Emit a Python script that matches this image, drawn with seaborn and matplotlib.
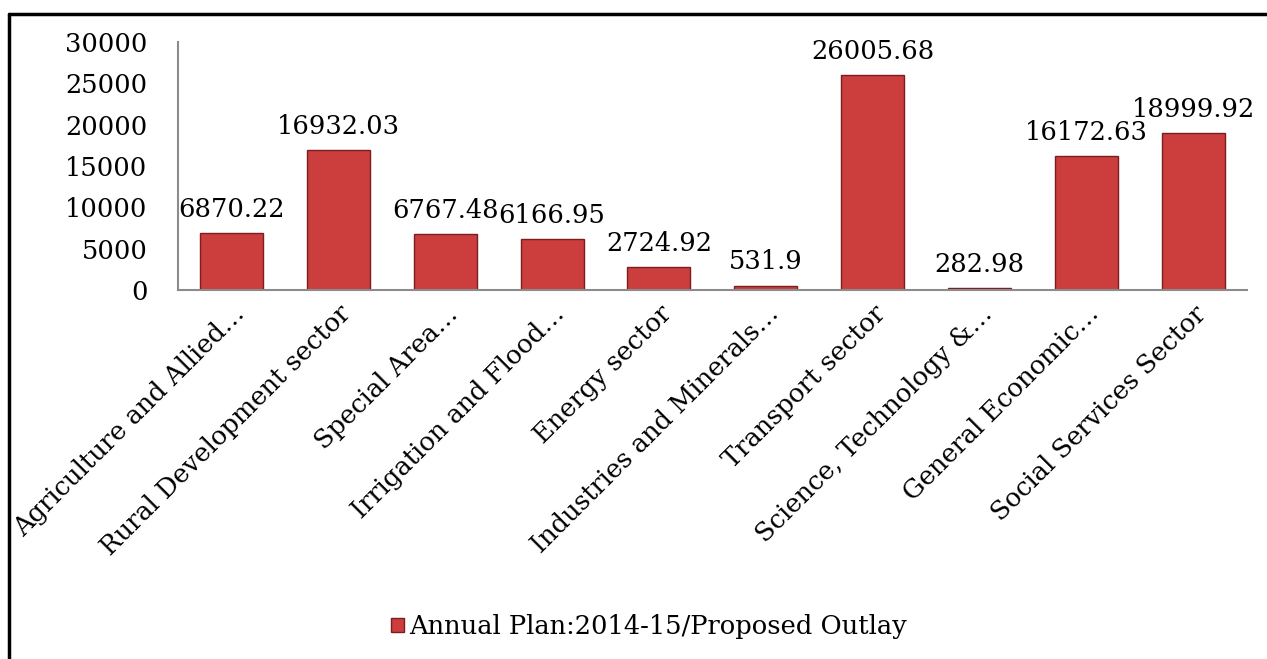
import matplotlib
matplotlib.use("Agg")
import matplotlib.pyplot as plt
import seaborn as sns
import pandas as pd
from matplotlib.lines import Line2D
from matplotlib.patches import Patch

categories = [
    "Agriculture and Allied…",
    "Rural Development sector",
    "Special Area…",
    "Irrigation and Flood…",
    "Energy sector",
    "Industries and Minerals…",
    "Transport sector",
    "Science, Technology &…",
    "General Economic…",
    "Social Services Sector",
]
values = [6870.22, 16932.03, 6767.48, 6166.95, 2724.92, 531.9, 26005.68, 282.98, 16172.63, 18999.92]
value_labels = ["6870.22", "16932.03", "6767.48", "6166.95", "2724.92", "531.9",
                "26005.68", "282.98", "16172.63", "18999.92"]
series_name = "Annual Plan:2014-15/Proposed Outlay"
yticks = [0, 5000, 10000, 15000, 20000, 25000, 30000]

sns.set_theme(style="white")
plt.rcParams["font.family"] = ["DejaVu Serif", "DejaVu Sans"]
plt.rcParams["text.color"] = "black"
plt.rcParams["xtick.color"] = "black"
plt.rcParams["ytick.color"] = "black"

df = pd.DataFrame({"category": categories, "value": values})

fig = plt.figure(figsize=(12.67, 6.59), dpi=100)
ax = fig.add_axes([0.1405, 0.56, 0.8435, 0.376])

bar_color = "#CC3E3E"
sns.barplot(data=df, x="category", y="value", color=bar_color, width=0.59,
            edgecolor="#7A1E1E", linewidth=1.0, saturation=1, ax=ax)

for i, (v, lab) in enumerate(zip(values, value_labels)):
    ax.annotate(lab, (i, v), xytext=(0, 8), textcoords="offset points",
                ha="center", va="bottom", fontsize=18.5, color="black")

ax.set_ylim(0, 30000)
ax.set_xlim(-0.5, 9.5)
ax.set_yticks(yticks)
ax.set_yticklabels([str(t) for t in yticks], fontsize=18.5, color="black")
ax.set_xlabel("")
ax.set_ylabel("")
ax.tick_params(axis="y", length=0, pad=22, colors="black")
ax.tick_params(axis="x", length=0, pad=8, colors="black")
ax.set_xticks(range(len(categories)))
ax.set_xticklabels(categories, rotation=45, ha="right", rotation_mode="anchor",
                   fontsize=18.5, color="black")

for s in ["top", "right"]:
    ax.spines[s].set_visible(False)
for s in ["left", "bottom"]:
    ax.spines[s].set_color("#8C8C8C")
    ax.spines[s].set_linewidth(1.5)

handle = Patch(facecolor=bar_color, edgecolor="#7A1E1E")
fig.legend([handle], [series_name], loc="center", bbox_to_anchor=(0.512, 0.049),
           frameon=False, fontsize=18.5, handlelength=0.5, handleheight=0.5,
           handletextpad=0.2, labelcolor="black")

# outer frame (top and left edges)
fig.add_artist(Line2D([0.0072, 0.0072], [0.0, 0.979], transform=fig.transFigure,
                      color="black", linewidth=2.5))
fig.add_artist(Line2D([0.0072, 1.0], [0.979, 0.979], transform=fig.transFigure,
                      color="black", linewidth=2.5))

fig.savefig("out.png", dpi=100, facecolor="white")
